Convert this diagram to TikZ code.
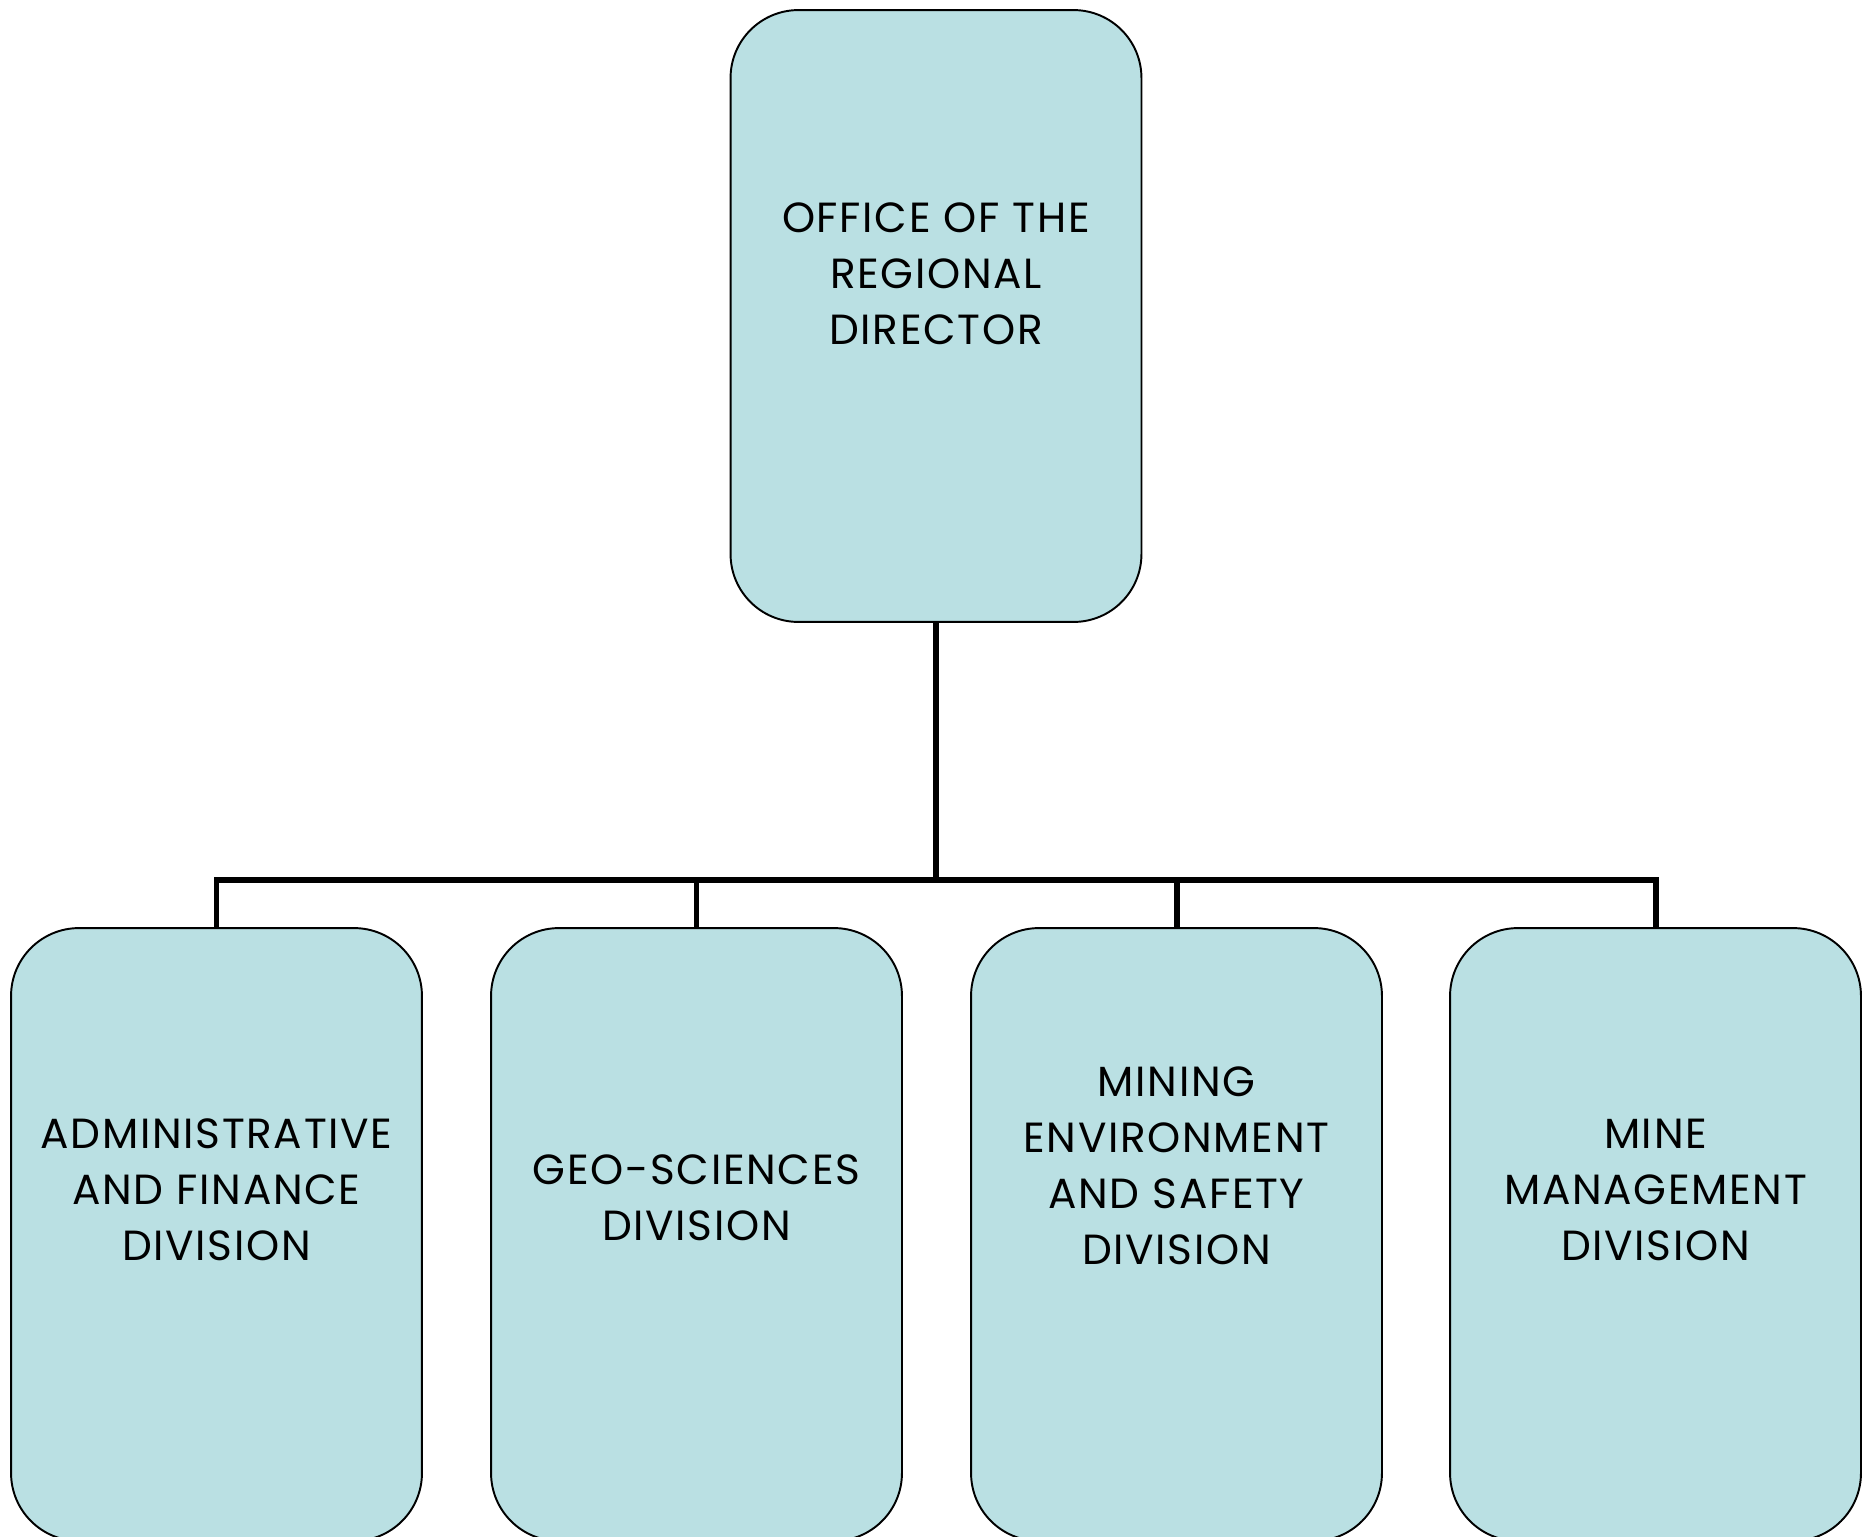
\documentclass[tikz,border=0pt]{standalone}
\usepackage{fontspec}
\setmainfont{Poppins}[LetterSpace=4]
\definecolor{boxfill}{RGB}{186,224,227}
\begin{document}
\begin{tikzpicture}[x=0.02cm,y=-0.02cm,
  orgbox/.style={draw=black, line width=1.1pt, fill=boxfill, rounded corners=1.36cm,
    minimum width=8.22cm, minimum height=12.26cm, inner sep=0pt, outer sep=0pt},
  orgtext/.style={align=center, font=\fontsize{24}{31.9}\selectfont, inner sep=0pt},
  link/.style={line width=3.4pt, draw=black}]
\useasboundingbox (0,0) rectangle (1868,1536);
\clip (0,0) rectangle (1868,1536);
\node[orgbox, minimum height=12.24cm] (top) at (936,316) {};
\node[orgbox] (c1) at (216.5,1234.5) {};
\node[orgbox] (c2) at (696.5,1234.5) {};
\node[orgbox] (c3) at (1176.5,1234.5) {};
\node[orgbox] (c4) at (1655.5,1234.5) {};
\node[orgtext] (t0) at (936,274) {OFFICE OF THE\\REGIONAL\\DIRECTOR};
\node[orgtext] (t1) at (216.5,1190) {ADMINISTRATIVE\\AND FINANCE\\DIVISION};
\node[orgtext] (t2) at (696.5,1198) {GEO-SCIENCES\\DIVISION};
\node[orgtext] (t3) at (1176.5,1166) {MINING\\ENVIRONMENT\\AND SAFETY\\DIVISION};
\node[orgtext] (t4) at (1655.5,1190) {MINE\\MANAGEMENT\\DIVISION};
\coordinate (bus) at (936,880);
\draw[link] (top.south) -- (bus);
\draw[link] (c1.north) |- (bus);
\draw[link] (c2.north) |- (bus);
\draw[link] (c3.north) |- (bus);
\draw[link] (c4.north) |- (bus);
\end{tikzpicture}
\end{document}
